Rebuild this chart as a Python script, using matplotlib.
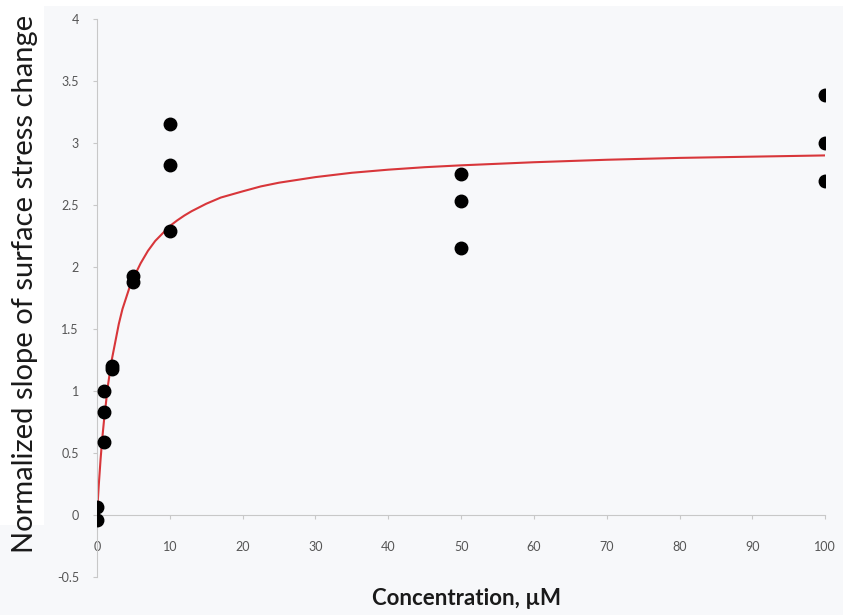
import numpy as np
import matplotlib.pyplot as plt
from matplotlib.patches import Rectangle

# measured points
conc = [0, 0, 1, 1, 1, 2, 2, 5, 5, 10, 10, 10, 50, 50, 50, 100, 100, 100]
slope = [0.06, -0.04, 1.0, 0.83, 0.59, 1.20, 1.18, 1.93, 1.88,
         3.15, 2.82, 2.29, 2.75, 2.53, 2.15, 3.39, 3.00, 2.69]

# fitted curve
fit_x = [0, 0.25, 0.5, 0.75, 1, 1.5, 2, 2.5, 3, 3.5, 4, 4.5, 5, 6, 7, 8, 9,
         10, 11, 12, 13, 14, 15, 17, 20, 22.5, 25, 30, 35, 40, 45, 50,
         60, 70, 80, 90, 100]
fit_y = [0, 0.24, 0.45, 0.63, 0.78, 1.04, 1.24, 1.39, 1.54, 1.66, 1.75,
         1.84, 1.91, 2.03, 2.13, 2.21, 2.27, 2.33, 2.375, 2.415, 2.45,
         2.48, 2.51, 2.56, 2.61, 2.65, 2.68, 2.725, 2.76, 2.785, 2.805,
         2.82, 2.845, 2.865, 2.88, 2.89, 2.90]

xticks = [0, 10, 20, 30, 40, 50, 60, 70, 80, 90, 100]
yticks = [-0.5, 0, 0.5, 1, 1.5, 2, 2.5, 3, 3.5, 4]

bg = '#f7f8fa'
plt.rcParams['font.family'] = ['Lato', 'DejaVu Sans']

fig = plt.figure(figsize=(8.43, 6.15), dpi=100, facecolor=bg)
fig.patches.append(Rectangle((0, 0.146), 0.052, 0.854, transform=fig.transFigure,
                             facecolor='white', edgecolor='none', zorder=0))
fig.patches.append(Rectangle((0, 0.99), 1, 0.01, transform=fig.transFigure,
                             facecolor='white', edgecolor='none', zorder=0))

ax = fig.add_axes([0.115, 0.062, 0.864, 0.907])
ax.set_facecolor(bg)
ax.patch.set_alpha(0)

ax.plot(fit_x, fit_y, color='#d8363a', lw=1.5, zorder=2)
ax.plot(conc, slope, 'o', color='black', ms=9, zorder=3)

ax.set_xlim(0, 100)
ax.set_ylim(-0.5, 4)
ax.set_xticks(xticks)
ax.set_yticks(yticks)
ax.set_yticklabels(['-0.5', '0', '0.5', '1', '1.5', '2', '2.5', '3', '3.5', '4'])

for s in ['top', 'right']:
    ax.spines[s].set_visible(False)
ax.spines['bottom'].set_position(('data', 0))
ax.spines['left'].set_position(('data', 0))
for s in ['bottom', 'left']:
    ax.spines[s].set_color('#c8c8c8')
    ax.spines[s].set_linewidth(0.8)
ax.spines['left'].set_bounds(-0.5, 4)

ax.tick_params(axis='both', colors='#c8c8c8', labelcolor='#555555',
               labelsize=9, length=3, width=0.8)
ax.tick_params(axis='x', pad=16)
ax.tick_params(axis='y', pad=10)

fig.text(0.03, 0.538, 'Normalized slope of surface stress change', rotation=90,
         ha='center', va='center', fontsize=21, color='#1a1a1a')
fig.text(0.553, 0.027, 'Concentration, \u00b5M', ha='center', va='center',
         fontsize=16, fontweight='bold', color='#1a1a1a')

plt.savefig('out.png', dpi=100, facecolor=bg)
